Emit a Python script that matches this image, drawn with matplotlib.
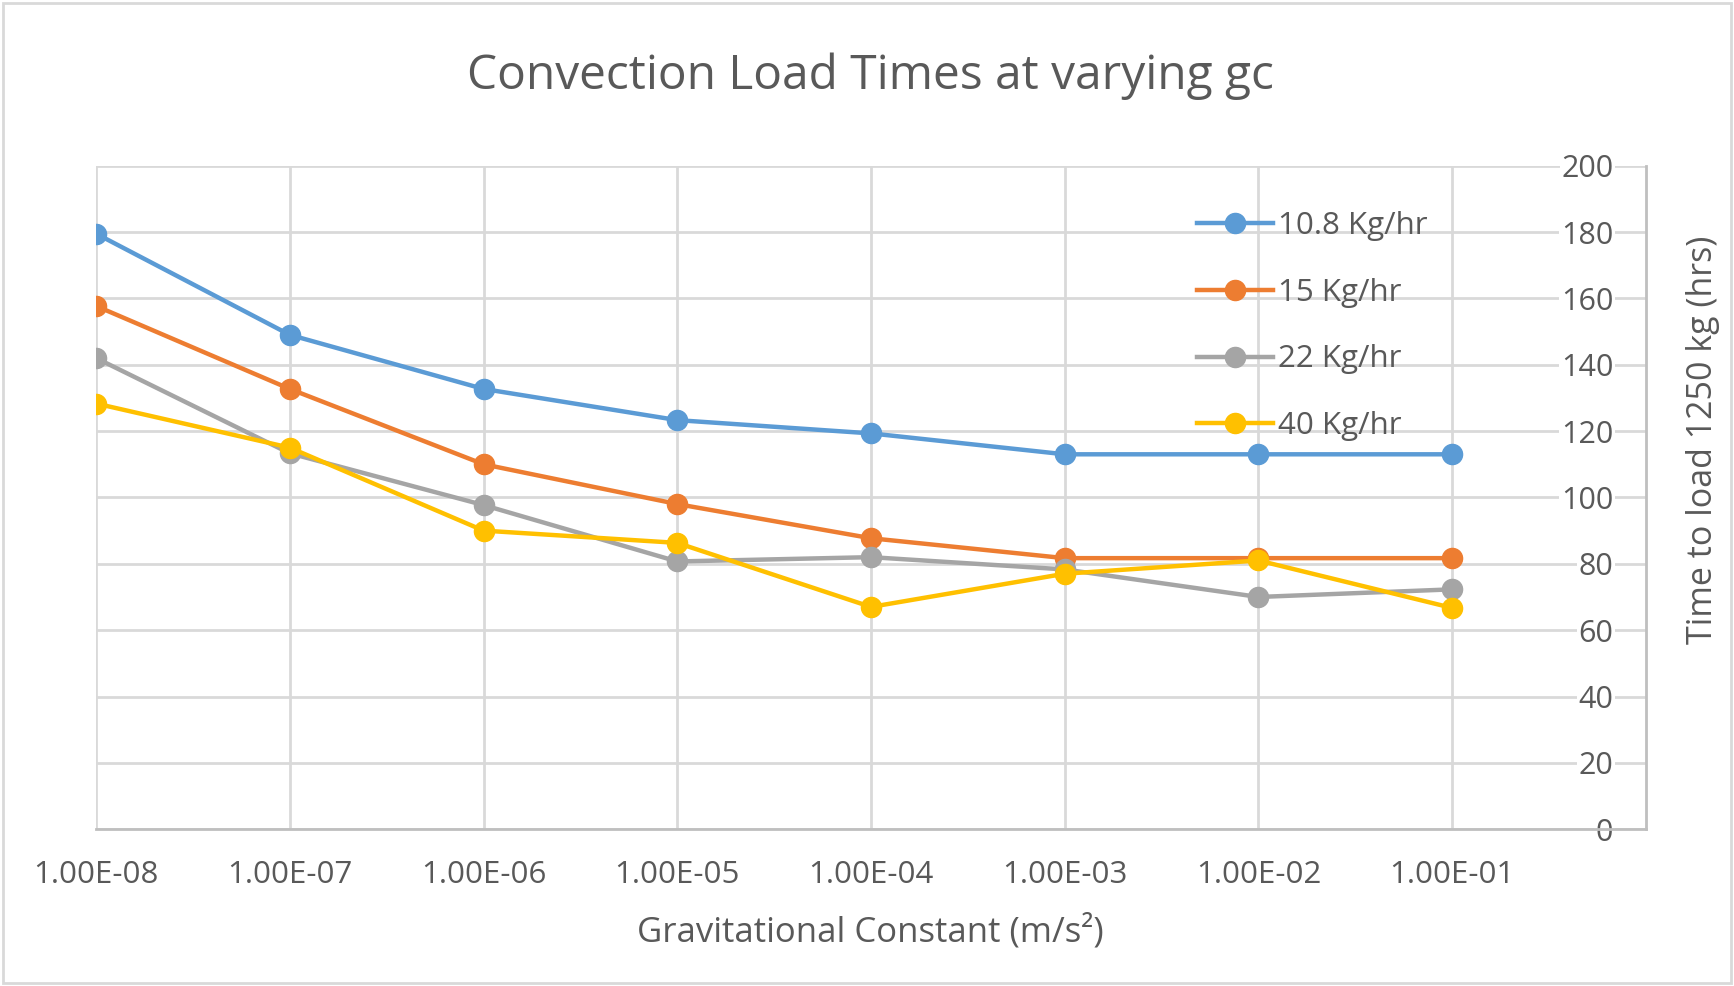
import matplotlib
matplotlib.use('Agg')
import matplotlib.pyplot as plt
from matplotlib.patches import Rectangle

# gravitational constant settings (categorical axis)
gc_labels = ['1.00E-08', '1.00E-07', '1.00E-06', '1.00E-05',
             '1.00E-04', '1.00E-03', '1.00E-02', '1.00E-01']

# time to load 1250 kg (hrs) for each feed rate
load_10_8 = [179.5, 149, 132.7, 123.3, 119.3, 113, 113, 113]
load_15 = [157.7, 132.7, 110, 98, 87.7, 81.7, 81.7, 81.7]
load_22 = [142, 113.3, 97.7, 80.7, 82, 78.3, 70, 72.3]
load_40 = [128.3, 115, 90, 86.3, 67, 77, 81, 66.7]

series_names = ['10.8 Kg/hr', '15 Kg/hr', '22 Kg/hr', '40 Kg/hr']
series_colors = ['#5B9BD5', '#ED7D31', '#A5A5A5', '#FFC000']

y_ticks = list(range(0, 201, 20))

plt.rcParams['font.family'] = ['Open Sans', 'DejaVu Sans']
text_color = '#595959'
grid_color = '#D9D9D9'

fig = plt.figure(figsize=(17.34, 9.86), dpi=100)
ax = fig.add_axes([0.0554, 0.159, 0.8938, 0.673])

x = list(range(len(gc_labels)))
for values, name, color in zip([load_10_8, load_15, load_22, load_40],
                               series_names, series_colors):
    ax.plot(x, values, color=color, linewidth=3.2, marker='o',
            markersize=14.5, label=name, zorder=3)

ax.set_xlim(0, 8)
ax.set_ylim(0, 200)
ax.set_xticks(x)
ax.set_xticklabels(gc_labels)
ax.set_yticks(y_ticks)

ax.grid(True, color=grid_color, linewidth=2, zorder=0)
ax.set_axisbelow(True)

for side in ['top', 'left']:
    ax.spines[side].set_visible(False)
for side in ['bottom', 'right']:
    ax.spines[side].set_color('#BFBFBF')
    ax.spines[side].set_linewidth(2)

ax.tick_params(axis='x', length=0, pad=22, labelsize=22.5, labelcolor=text_color)
ax.tick_params(axis='y', left=False, labelleft=False, right=False,
               labelright=True, pad=-27, labelsize=22, labelcolor=text_color)
for lbl in ax.get_yticklabels():
    lbl.set_horizontalalignment('right')
    lbl.set_bbox(dict(facecolor='white', edgecolor='none', pad=1))

leg = ax.legend(loc='upper left', bbox_to_anchor=(0.702, 0.95), frameon=False,
                fontsize=22.5, handlelength=2.45, labelspacing=1.17,
                handletextpad=0.15, borderaxespad=0)
for t in leg.get_texts():
    t.set_color(text_color)

fig.text(0.502, 0.923, 'Convection Load Times at varying gc', ha='center',
         va='center', fontsize=34.5, color=text_color)
fig.text(0.502, 0.055, 'Gravitational Constant (m/s²)', ha='center',
         va='center', fontsize=25, color=text_color)
fig.text(0.982, 0.554, 'Time to load 1250 kg (hrs)', ha='center',
         va='center', rotation=90, fontsize=24.5, color=text_color)

# light chart-area border
fig.patches.append(Rectangle((0.002, 0.003), 0.996, 0.994, transform=fig.transFigure,
                             fill=False, edgecolor=grid_color, linewidth=2))

fig.savefig('out.png', dpi=100, facecolor='white')
